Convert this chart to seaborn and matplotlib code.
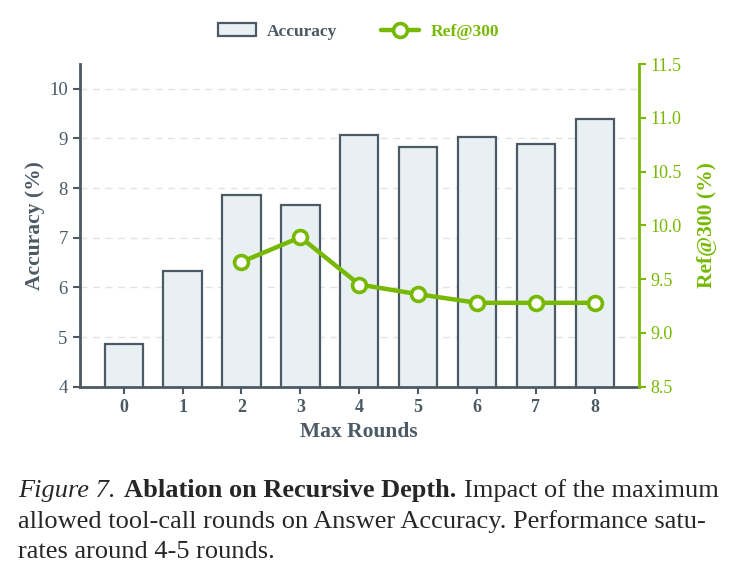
import numpy as np
import pandas as pd
import matplotlib
matplotlib.use("Agg")
import matplotlib.pyplot as plt
import seaborn as sns

rounds = [0, 1, 2, 3, 4, 5, 6, 7, 8]
accuracy = [4.86, 6.34, 7.86, 7.67, 9.08, 8.82, 9.02, 8.89, 9.39]
ref_rounds = [2, 3, 4, 5, 6, 7, 8]
ref300 = [9.66, 9.89, 9.45, 9.36, 9.28, 9.28, 9.28]

sns.set_style("white")
plt.rcParams['font.family'] = ['Liberation Serif', 'DejaVu Serif']

dark = '#4b5a64'
green = '#76b900'
bar_fill = '#e9f0f4'

fig = plt.figure(figsize=(7.39, 5.73), dpi=100)
ax = fig.add_axes([0.1076, 0.3251, 0.7571, 0.5632])

df = pd.DataFrame({'round': [str(r) for r in rounds], 'acc': accuracy})
sns.barplot(data=df, x='round', y='acc', color=bar_fill, width=0.65,
            edgecolor=dark, linewidth=1.6, saturation=1, ax=ax, zorder=2,
            label='Accuracy')
for p in ax.patches:
    p.set_facecolor(bar_fill)

ax.set_xlim(-0.75, 8.75)
ax.set_ylim(4, 10.5)
ax.set_yticks([4, 5, 6, 7, 8, 9, 10])
for v in [5, 6, 7, 8, 9, 10]:
    ax.axhline(v, color='#e3e3e3', lw=1.0, ls=(0, (5, 4)), zorder=0)

ax.set_xlabel('Max Rounds', fontsize=15.5, fontweight='bold', color=dark, labelpad=5)
ax.set_ylabel('Accuracy (%)', fontsize=15.5, fontweight='bold', color=dark, labelpad=3)
ax.tick_params(axis='x', colors=dark, labelsize=13, length=5, width=1.5, direction='out', bottom=True)
ax.tick_params(axis='y', colors=dark, labelsize=13.5, length=5, width=1.5, direction='out', left=True)
for t in ax.get_xticklabels():
    t.set_fontweight('bold')
for s in ['top', 'right']:
    ax.spines[s].set_visible(False)
for s in ['left', 'bottom']:
    ax.spines[s].set_color(dark)
    ax.spines[s].set_linewidth(2)

ax2 = ax.twinx()
ldf = pd.DataFrame({'round': ref_rounds, 'ref': ref300})
sns.lineplot(data=ldf, x='round', y='ref', color=green, lw=3.2, marker='o',
             markersize=10, markerfacecolor='white', markeredgecolor=green,
             markeredgewidth=2.6, ax=ax2, zorder=5, label='Ref@300')
ax2.set_ylim(8.5, 11.5)
ax2.set_yticks(np.arange(8.5, 11.51, 0.5))
ax2.set_yticklabels([f'{v:.1f}' for v in np.arange(8.5, 11.51, 0.5)])
ax2.set_ylabel('Ref@300 (%)', fontsize=15.5, fontweight='bold', color=green, labelpad=11)
ax2.tick_params(axis='y', colors=green, labelsize=13, length=5, width=1.5, direction='out', right=True)
for s in ['top', 'left', 'bottom']:
    ax2.spines[s].set_visible(False)
ax2.spines['right'].set_color(green)
ax2.spines['right'].set_linewidth(2)
if ax2.legend_:
    ax2.legend_.remove()
if ax.legend_:
    ax.legend_.remove()

h1, l1 = ax.get_legend_handles_labels()
h2, l2 = ax2.get_legend_handles_labels()
leg = fig.legend(h1[:1] + h2[:1], ['Accuracy', 'Ref@300'], loc='center',
                 bbox_to_anchor=(0.485, 0.945), ncol=2, frameon=False,
                 prop={'size': 12.5, 'weight': 'bold'}, columnspacing=2.5,
                 handlelength=2.2, handletextpad=0.65)
leg.get_texts()[0].set_color(dark)
leg.get_texts()[1].set_color(green)

# caption
fs = 19
fig.canvas.draw()
r = fig.canvas.get_renderer()
x0 = 18
y1 = 1 - 497 / 573
t = fig.text(x0 / 739, y1, 'Figure 7.', fontsize=fs, style='italic', va='baseline')
x = t.get_window_extent(r).x1 + 8
t = fig.text(x / 739, y1, 'Ablation on Recursive Depth.', fontsize=fs, fontweight='bold', va='baseline')
x = t.get_window_extent(r).x1 + 8
fig.text(x / 739, y1, 'Impact of the maximum', fontsize=fs, va='baseline')
fig.text(x0 / 739, 1 - 528 / 573, 'allowed tool-call rounds on Answer Accuracy. Performance satu-',
         fontsize=fs, va='baseline')
fig.text(x0 / 739, 1 - 558 / 573, 'rates around 4-5 rounds.', fontsize=fs, va='baseline')

fig.savefig('out.png', dpi=100)
